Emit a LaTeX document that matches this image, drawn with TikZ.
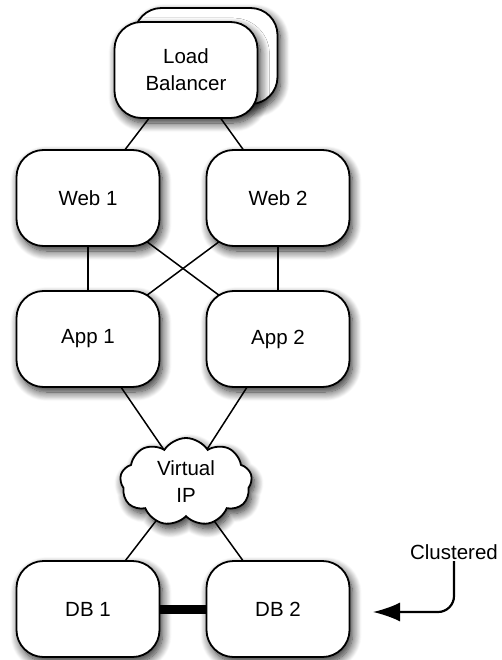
\documentclass[tikz,border=0pt]{standalone}
\usepackage{fontspec}
\setmainfont{Liberation Sans}
\usetikzlibrary{shapes.symbols,shadows.blur,backgrounds,arrows.meta}

\begin{document}
\begin{tikzpicture}[x=1pt, y=-1pt,
  label font/.style={font=\fontsize{20.5}{27}\selectfont},
  shade box/.style={blur shadow={shadow xshift=3pt, shadow yshift=-5pt, shadow blur radius=9pt, shadow blur steps=12, shadow opacity=85}},
  box/.style={draw, line width=1.8pt, fill=white, rounded corners=27pt, minimum width=143pt, minimum height=96pt, align=center, label font, shade box},
  vip/.style={cloud, cloud puffs=9, cloud puff arc=115, aspect=1.5, draw, line width=1.8pt, fill=white, minimum width=132pt, minimum height=88pt, inner sep=0pt, align=center, label font, shade box},
  link/.style={line width=1.5pt}]
\useasboundingbox (0,0) rectangle (502,660);
% servers
\node[box] (lbback) at (206,56) {};
\node[box] (lb) at (186,70) {Load\\Balancer};
\node[box] (web1) at (88,198) {Web 1};
\node[box] (web2) at (278,198) {Web 2};
\node[box] (app1) at (88,339) {App 1};
\node[box] (app2) at (278,339) {App 2};
\node[vip] (ip) at (186,482) {Virtual\\IP};
\node[box] (db1) at (88,609) {DB 1};
\node[box] (db2) at (278,609) {DB 2};
% links
\begin{scope}[on background layer]
\foreach \a/\b in {lb/web1, lb/web2, web1/app1, web1/app2, web2/app1, web2/app2, app1/ip, app2/ip, ip/db1, ip/db2}
  \draw[link] (\a.center) -- (\b.center);
\draw[line width=9pt] (db1.center) -- (db2.center);
\end{scope}
% note
\node[label font, inner sep=1.5pt] (clu) at (454,552) {Clustered};
\coordinate (tip) at (373,612);
\draw[line width=2.2pt, rounded corners=16pt, -{Latex[length=27pt, width=19pt]}] (clu.south) |- (tip);
\end{tikzpicture}
\end{document}
